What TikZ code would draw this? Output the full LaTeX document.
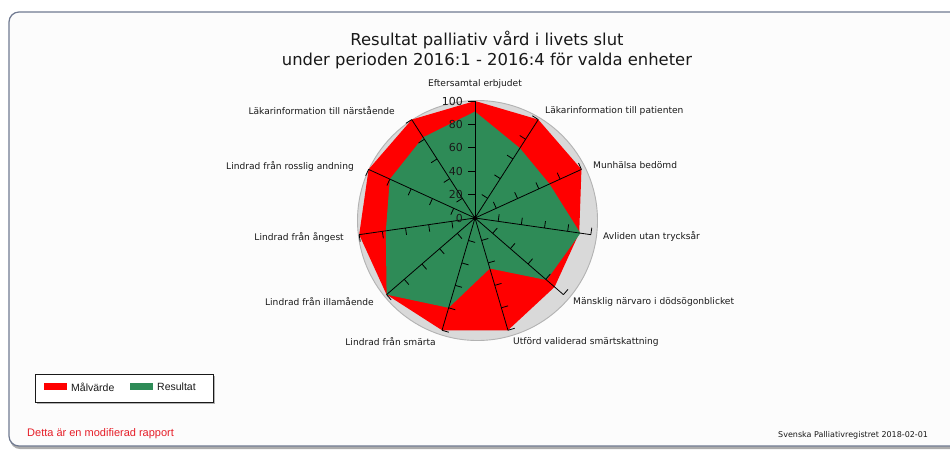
\documentclass[tikz,border=0pt]{standalone}
\usepackage{fontspec}
\setmainfont{DejaVu Sans}
\newfontfamily\arialf{Liberation Sans}
\definecolor{malred}{RGB}{255,0,0}
\definecolor{resgreen}{RGB}{46,139,87}
\definecolor{framec}{RGB}{112,122,145}
\definecolor{txt}{RGB}{25,25,25}
\definecolor{footred}{RGB}{230,30,40}
\definecolor{bg}{RGB}{252,252,252}
\begin{document}
\begin{tikzpicture}[x=1pt,y=-1pt,
  catlab/.style={font=\fontsize{9.1}{10}\selectfont, text=txt, inner sep=0pt},
  numlab/.style={font=\fontsize{11}{11}\selectfont, text=txt, inner sep=0pt, anchor=east},
  axisline/.style={draw=black, line width=0.8pt},
  legtext/.style={font=\arialf\fontsize{10.5}{11}\selectfont, text=txt, inner sep=0pt, anchor=west}]
\useasboundingbox (0,0) rectangle (950,450);
\fill[white] (0,0) rectangle (950,450);
% frame
\fill[gray!65, rounded corners=10pt] (10,14) rectangle (965,449);
\filldraw[fill=bg, draw=framec, line width=1.2pt, rounded corners=10pt] (9,12) rectangle (962,446);
% title
\node[font=\fontsize{16.4}{18}\selectfont, text=txt, inner sep=0pt] (t1) at (487,40) {Resultat palliativ vård i livets slut};
\node[font=\fontsize{16.4}{18}\selectfont, text=txt, inner sep=0pt] (t2) at (487,61) {under perioden 2016:1 - 2016:4 för valda enheter};
% grey disc
\filldraw[fill=gray!30, draw=gray!60, line width=0.9pt] (477.5,220.5) circle (120);
\coordinate (c) at (475,218);
% polygons
\foreach \v [count=\i from 0] in {100,100,100,90,90,100,100,100,100,100,100} {
  \pgfmathsetmacro\a{\i*360/11}
  \coordinate (r\i) at ({475+1.17*\v*sin(\a)},{218-1.17*\v*cos(\a)});
}
\foreach \v [count=\i from 0] in {91,71,70,91,81,45,80,100,77,80,82} {
  \pgfmathsetmacro\a{\i*360/11}
  \coordinate (g\i) at ({475+1.17*\v*sin(\a)},{218-1.17*\v*cos(\a)});
}
\fill[malred] (r0) -- (r1) -- (r2) -- (r3) -- (r4) -- (r5) -- (r6) -- (r7) -- (r8) -- (r9) -- (r10) -- cycle;
\fill[resgreen] (g0) -- (g1) -- (g2) -- (g3) -- (g4) -- (g5) -- (g6) -- (g7) -- (g8) -- (g9) -- (g10) -- cycle;
% axes and ticks
\foreach \k in {0,...,10} {
  \pgfmathsetmacro\a{\k*360/11}
  \coordinate (e\k) at ({475+117*sin(\a)},{218-117*cos(\a)});
  \draw[axisline] (c) -- (e\k);
  \foreach \t in {20,40,60,80,100} {
    \draw[axisline] ({475+1.17*\t*sin(\a)},{218-1.17*\t*cos(\a)}) -- ++({-7*cos(\a)},{-7*sin(\a)});
  }
}
\foreach \t in {0,20,40,60,80,100} {
  \node[numlab] (n\t) at (463,{218-1.17*\t}) {\t};
}
\fill[black] (c) circle (2);
% category labels
\node[catlab] (l0) at (475,84) {Eftersamtal erbjudet};
\node[catlab, anchor=west] (l1) at (545,111) {Läkarinformation till patienten};
\node[catlab, anchor=west] (l2) at (593,165) {Munhälsa bedömd};
\node[catlab, anchor=west] (l3) at (603,236) {Avliden utan trycksår};
\node[catlab, anchor=west] (l4) at (573,302) {Mänsklig närvaro i dödsögonblicket};
\node[catlab, anchor=west] (l5) at (513,342) {Utförd validerad smärtskattning};
\node[catlab, anchor=east] (l6) at (436,342) {Lindrad från smärta};
\node[catlab, anchor=east] (l7) at (374,302) {Lindrad från illamående};
\node[catlab, anchor=east] (l8) at (344,237) {Lindrad från ångest};
\node[catlab, anchor=east] (l9) at (354,166) {Lindrad från rosslig andning};
\node[catlab, anchor=east] (l10) at (395,111) {Läkarinformation till närstående};
% legend
\fill[gray!60] (37,376) rectangle (215,404);
\filldraw[fill=white, draw=txt, line width=0.8pt] (35,374) rectangle (213,402);
\fill[malred] (44,383) rectangle (67,390);
\fill[resgreen] (130,383) rectangle (153,390);
\node[legtext] (lm) at (71,387) {Målvärde};
\node[legtext] (lr) at (157,387) {Resultat};
% footers
\node[font=\arialf\fontsize{11}{12}\selectfont, text=footred, inner sep=0pt, anchor=west] (f1) at (27,434) {Detta är en modifierad rapport};
\node[font=\fontsize{8}{9}\selectfont, text=txt, inner sep=0pt, anchor=west] (f2) at (778,435) {Svenska Palliativregistret 2018-02-01};
\end{tikzpicture}
\end{document}
